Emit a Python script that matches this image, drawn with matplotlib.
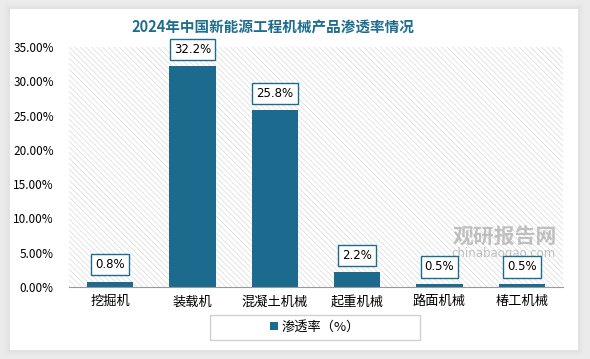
import matplotlib
matplotlib.use("Agg")
import matplotlib.pyplot as plt
from matplotlib.patches import Rectangle
from matplotlib.ticker import FuncFormatter

plt.rcParams['font.family'] = ['Noto Sans CJK SC', 'DejaVu Sans']
plt.rcParams['hatch.linewidth'] = 0.5

categories = ["挖掘机", "装载机", "混凝土机械", "起重机械", "路面机械", "椿工机械"]
rates = [0.8, 32.2, 25.8, 2.2, 0.5, 0.5]
label_texts = ["0.8%", "32.2%", "25.8%", "2.2%", "0.5%", "0.5%"]
title = "2024年中国新能源工程机械产品渗透率情况"
legend_label = "渗透率（%）"

bar_color = "#1c6b8f"

fig = plt.figure(figsize=(5.9, 3.59), dpi=100)
fig.patch.set_facecolor("#ebebeb")

# white card with a soft shadow
for i, a in enumerate([0.05, 0.08, 0.12]):
    d = (3 - i) * 2
    fig.patches.append(Rectangle(((10 - d) / 590, (9 - d) / 359), (568 + 2 * d) / 590, (341 + 2 * d) / 359,
                                 transform=fig.transFigure, facecolor="#cccccc", alpha=a,
                                 edgecolor="none", zorder=-10))
fig.patches.append(Rectangle((10 / 590, 9 / 359), 568 / 590, 341 / 359, transform=fig.transFigure,
                             facecolor="white", edgecolor="none", zorder=-9))

ax = fig.add_axes([69 / 590, 1 - 287 / 359, 494 / 590, 240 / 359])
ax.set_zorder(2)
ax.set_facecolor("white")
ax.add_patch(Rectangle((0, 0), 1, 1, transform=ax.transAxes, facecolor="white",
                       edgecolor="#d9d9d9", hatch="\\\\\\\\\\\\", linewidth=0, zorder=0))

# watermark (behind the label boxes, as in the original)
ax.text(505 / 590, 1 - 236 / 359, "观研报告网", transform=fig.transFigure, ha="center", va="center",
        fontsize=15, fontweight="bold", color="#9a9a9a", alpha=0.6, zorder=1)
ax.text(503 / 590, 1 - 254 / 359, "chinabaogao.com", transform=fig.transFigure, ha="center",
        va="center", fontsize=8.5, color="#9a9a9a", alpha=0.6, zorder=1, family=["DejaVu Sans"])

x = range(len(categories))
bars = ax.bar(x, rates, width=0.56, color=bar_color, label=legend_label, zorder=2)
ax.set_xlim(-0.5, len(categories) - 0.5)
ax.set_ylim(0, 35)
ax.set_yticks([0, 5, 10, 15, 20, 25, 30, 35])
ax.yaxis.set_major_formatter(FuncFormatter(lambda v, p: f"{v:.2f}%"))
ax.set_xticks(list(x))
ax.set_xticklabels(categories, fontsize=9.5)
ax.tick_params(axis="y", length=0, labelsize=8.5, pad=11)
ax.tick_params(axis="x", length=0, pad=6)
for s in ["top", "right", "left"]:
    ax.spines[s].set_visible(False)
ax.spines["bottom"].set_color("#999999")
ax.spines["bottom"].set_zorder(3)

for b, t in zip(bars, label_texts):
    ax.annotate(t, (b.get_x() + b.get_width() / 2, b.get_height()), xytext=(0, 12),
                textcoords="offset points", ha="center", va="center", fontsize=8.5,
                family=["DejaVu Sans"],
                bbox=dict(boxstyle="square,pad=0.35", facecolor="white", edgecolor=bar_color, linewidth=1),
                zorder=4)

fig.text(273 / 590, 1 - 28 / 359, title, ha="center", va="center", fontsize=10.5,
         fontweight="bold", color="#1f6d8e")

# legend
fig.patches.append(Rectangle((210 / 590, 1 - 340 / 359), 210 / 590, 25 / 359, transform=fig.transFigure,
                             facecolor="white", edgecolor="#d0d0d0", linewidth=1, zorder=1))
fig.legend(handles=[bars], labels=[legend_label], loc="center", bbox_to_anchor=(315 / 590, 1 - 327 / 359),
           frameon=False, fontsize=9.5, handlelength=0.6, handleheight=0.6, handletextpad=0.3)

fig.savefig("out.png", dpi=100, facecolor=fig.get_facecolor())
